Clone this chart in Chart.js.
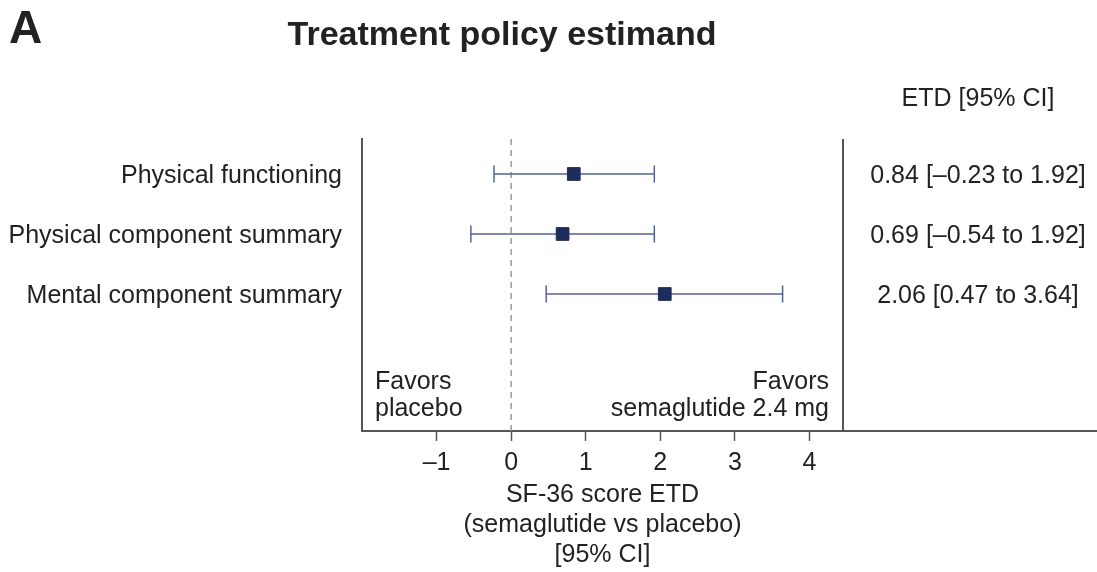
<!DOCTYPE html>
<html>
<head>
<meta charset="utf-8">
<script src="https://cdn.jsdelivr.net/npm/chart.js@4/dist/chart.umd.min.js"></script>
<style>
  body { margin: 0; background: #fff; }
  #wrap { width: 1097px; height: 572px; }
</style>
</head>
<body>
<div id="wrap"><canvas id="forestChart" width="1097" height="572"></canvas></div>
<script>
    // Дані
    const outcomes = ['Physical functioning', 'Physical component summary', 'Mental component summary'];
    const estimates = [0.84, 0.69, 2.06];
    const lowerCI = [-0.23, -0.54, 0.47];
    const upperCI = [1.92, 1.92, 3.64];
    const etdLabels = ['0.84 [\u20130.23 to 1.92]', '0.69 [\u20130.54 to 1.92]', '2.06 [0.47 to 3.64]'];
    const xTicks = [-1, 0, 1, 2, 3, 4];

    const FONT = '"Liberation Sans", Arial, Helvetica, sans-serif';
    const TEXT = '#222';
    const Y_MIN = 0.417, Y_MAX = 5.283;

    const datasets = [];
    // Точкові оцінки
    datasets.push({
        type: 'scatter',
        data: estimates.map((v, i) => ({ x: v, y: i + 1 })),
        pointStyle: 'rect',
        pointRadius: 9,
        backgroundColor: '#1f2d5c',
        borderColor: '#1f2d5c',
        borderWidth: 1,
        order: 0
    });
    // Довірчі інтервали
    outcomes.forEach((o, i) => {
        datasets.push({
            type: 'line',
            data: [{ x: lowerCI[i], y: i + 1 }, { x: upperCI[i], y: i + 1 }],
            borderColor: '#55628f',
            borderWidth: 1.5,
            pointStyle: 'line',
            pointRotation: 90,
            pointRadius: 8.5,
            pointBorderWidth: 1.5,
            pointBorderColor: '#55628f',
            order: 1
        });
    });
    // Лінія нуля
    datasets.push({
        type: 'line',
        data: [{ x: 0, y: Y_MIN }, { x: 0, y: Y_MAX }],
        borderColor: '#9a9a9a',
        borderWidth: 1.5,
        borderDash: [6, 5],
        pointRadius: 0,
        order: 2
    });

    const extras = {
        id: 'extras',
        afterDraw(chart) {
            const { ctx, chartArea, scales } = chart;
            ctx.save();
            ctx.strokeStyle = '#555';
            ctx.lineWidth = 2;
            ctx.beginPath();
            ctx.moveTo(chartArea.right, chartArea.top);
            ctx.lineTo(chartArea.right, chartArea.bottom);
            ctx.moveTo(chartArea.right, chartArea.bottom);
            ctx.lineTo(chart.width, chartArea.bottom);
            ctx.stroke();

            ctx.fillStyle = TEXT;
            ctx.textBaseline = 'middle';
            ctx.font = 'bold 46px ' + FONT;
            ctx.textAlign = 'left';
            ctx.fillText('A', 9, 30);
            ctx.font = 'bold 34px ' + FONT;
            ctx.textAlign = 'center';
            ctx.fillText('Treatment policy estimand', 502, 36);

            ctx.font = '25px ' + FONT;
            ctx.fillText('ETD [95% CI]', 978, 99);
            etdLabels.forEach((t, i) => {
                ctx.fillText(t, 978, scales.y.getPixelForValue(i + 1) + 2);
            });

            ctx.textAlign = 'left';
            ctx.fillText('Favors', 375, 382);
            ctx.fillText('placebo', 375, 409);
            ctx.textAlign = 'right';
            ctx.fillText('Favors', 829, 382);
            ctx.fillText('semaglutide 2.4 mg', 829, 409);
            ctx.restore();
        }
    };

    const ctx = document.getElementById('forestChart').getContext('2d');
    new Chart(ctx, {
        type: 'scatter',
        data: { datasets: datasets },
        options: {
            responsive: false,
            animation: false,
            layout: { padding: { top: 139, right: 254, bottom: 0, left: 0 } },
            plugins: {
                legend: { display: false },
                tooltip: { enabled: false }
            },
            scales: {
                x: {
                    type: 'linear',
                    min: -2,
                    max: 4.45,
                    afterBuildTicks: (s) => { s.ticks = xTicks.map(v => ({ value: v })); },
                    afterFit: (s) => { s.height = 141; },
                    border: { display: true, color: '#555', width: 2 },
                    grid: { display: true, drawOnChartArea: false, drawTicks: true, tickLength: 10, tickColor: '#555', tickWidth: 1.5 },
                    ticks: {
                        color: TEXT,
                        font: { family: FONT, size: 25 },
                        padding: 7,
                        callback: (v) => v < 0 ? '\u2013' + Math.abs(v) : String(v)
                    },
                    title: {
                        display: true,
                        text: ['SF-36 score ETD', '(semaglutide vs placebo)', '[95% CI]'],
                        color: TEXT,
                        font: { family: FONT, size: 25, lineHeight: 1.2 },
                        padding: { top: 0, bottom: 2 }
                    }
                },
                y: {
                    type: 'linear',
                    min: Y_MIN,
                    max: Y_MAX,
                    reverse: true,
                    afterBuildTicks: (s) => { s.ticks = outcomes.map((o, i) => ({ value: i + 1 })); },
                    afterFit: (s) => { s.width = 362; },
                    border: { display: true, color: '#555', width: 2 },
                    grid: { display: false, drawTicks: false },
                    ticks: {
                        color: TEXT,
                        font: { family: FONT, size: 25 },
                        padding: 20,
                        labelOffset: 2,
                        callback: (v) => outcomes[Math.round(v) - 1] || ''
                    }
                }
            }
        },
        plugins: [extras]
    });
</script>
</body>
</html>
